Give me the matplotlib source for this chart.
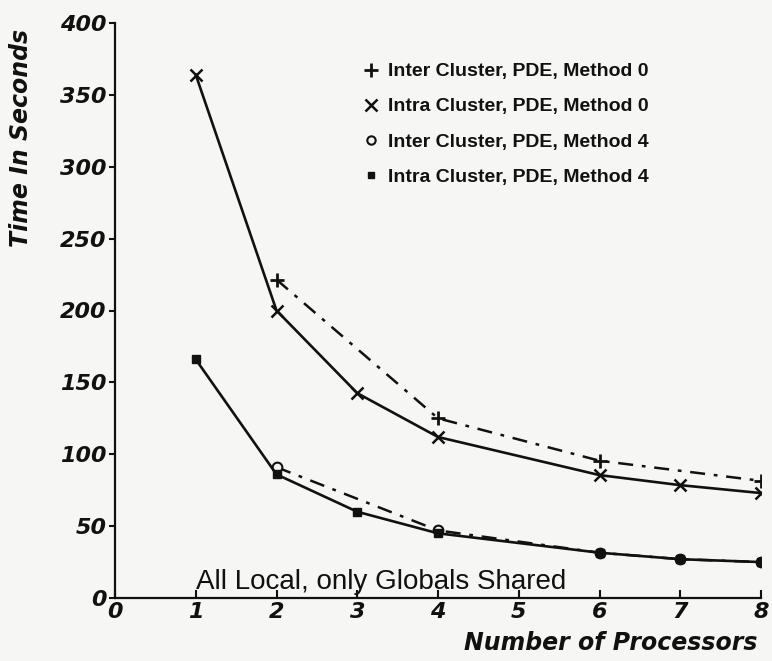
import matplotlib
matplotlib.use('Agg')
import matplotlib.pyplot as plt
from matplotlib.lines import Line2D

# processors / time in seconds
procs_inter0 = [2, 4, 6, 8]
time_inter0 = [221.5, 125, 95.5, 81.5]

procs_intra0 = [1, 2, 3, 4, 6, 7, 8]
time_intra0 = [364, 200, 142.5, 112, 85.5, 78.5, 73]

procs_inter4 = [2, 4, 6, 7, 8]
time_inter4 = [91, 47, 31.5, 27, 25]

procs_intra4 = [1, 2, 3, 4, 6, 7, 8]
time_intra4 = [166, 86, 60, 45, 31.5, 27, 25]

labels = ['Inter Cluster, PDE, Method 0',
          'Intra Cluster, PDE, Method 0',
          'Inter Cluster, PDE, Method 4',
          'Intra Cluster, PDE, Method 4']

ink = '#111111'
paper = '#f6f6f4'
bold_it = dict(family='DejaVu Sans', weight='bold', style='oblique')

fig = plt.figure(figsize=(7.72, 6.61), dpi=100, facecolor=paper)
ax = fig.add_axes([115/772, 63/661, 646/772, 575/661])
ax.set_facecolor(paper)

dashdot = (6, 3.5, 1.5, 3.5)
ax.plot(procs_inter0, time_inter0, color=ink, lw=1.8, dashes=dashdot,
        marker='+', ms=10, mew=2)
ax.plot(procs_intra0, time_intra0, color=ink, lw=1.9,
        marker='x', ms=9, mew=1.8)
ax.plot(procs_inter4, time_inter4, color=ink, lw=1.8, dashes=dashdot,
        marker='o', ms=7, mew=1.5, mfc=paper, zorder=2)
ax.plot(procs_intra4, time_intra4, color=ink, lw=1.9,
        marker='s', ms=5.5, zorder=3)

ax.set_xlim(0, 8)
ax.set_ylim(0, 400)
ax.set_xticks(range(0, 9))
ax.set_yticks(range(0, 401, 50))

for s in ['top', 'right']:
    ax.spines[s].set_visible(False)
for s in ['left', 'bottom']:
    ax.spines[s].set_linewidth(1.6)
    ax.spines[s].set_color(ink)

ax.tick_params(axis='y', direction='out', length=4, width=1.5, pad=2,
               colors=ink, labelsize=16)
ax.tick_params(axis='x', direction='in', length=6, width=1.5, pad=3,
               colors=ink, labelsize=16)
for t in ax.get_xticklabels() + ax.get_yticklabels():
    t.set_fontfamily('DejaVu Sans')
    t.set_fontweight('bold')
    t.set_fontstyle('oblique')

ax.set_ylabel('Time In Seconds', fontsize=17, color=ink, **bold_it)
ax.yaxis.set_label_coords(-0.145, 0.80)
ax.yaxis.label.set_va('center')
ax.set_xlabel('Number of Processors', fontsize=17, color=ink, **bold_it)
ax.xaxis.set_label_coords(0.768, -0.078)
ax.xaxis.label.set_va('center')

ax.text(1, 6.5, 'All Local, only Globals Shared', family='Liberation Sans',
        fontsize=20, color=ink, va='baseline', ha='left')

handles = [Line2D([], [], ls='none', color=ink, marker='+', ms=10, mew=2),
           Line2D([], [], ls='none', color=ink, marker='x', ms=8, mew=1.8),
           Line2D([], [], ls='none', color=ink, marker='o', ms=6, mew=1.5, mfc=paper),
           Line2D([], [], ls='none', color=ink, marker='s', ms=5)]
leg = fig.legend(handles, labels, loc='upper left',
                 bbox_to_anchor=(352/772, 1 - 53/661), frameon=False,
                 borderpad=0, handlelength=1, handletextpad=0.34,
                 labelspacing=0.9,
                 prop=dict(family='Liberation Sans', weight='bold', size=14))
for t in leg.get_texts():
    t.set_color(ink)

fig.savefig('out.png', dpi=100, facecolor=paper)
